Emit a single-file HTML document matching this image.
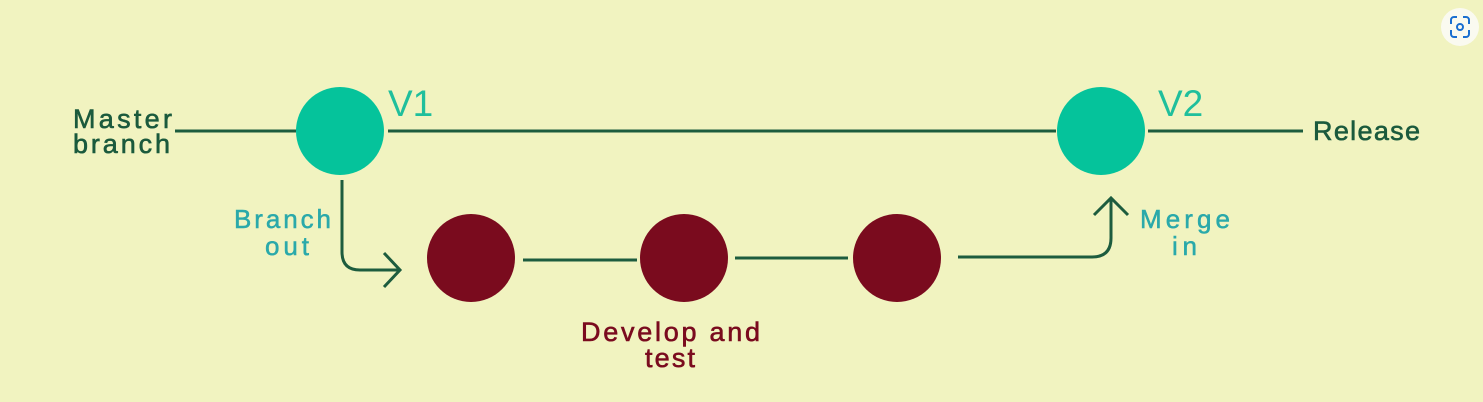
<!DOCTYPE html>
<html><head><meta charset="utf-8"><style>
html,body{margin:0;padding:0;background:#f1f3c0;}
svg{display:block;font-family:"Liberation Sans",sans-serif;}
</style></head><body>
<svg width="1483" height="402" viewBox="0 0 1483 402">
<rect width="1483" height="402" fill="#f1f3c0"/>
<g stroke="#1d5c3e" stroke-width="3" fill="none">
<line x1="175" y1="131" x2="296" y2="131"/>
<line x1="388" y1="131" x2="1056" y2="131"/>
<line x1="1148" y1="131" x2="1303" y2="131"/>
<line x1="523" y1="260" x2="637" y2="260"/>
<line x1="735" y1="258" x2="848" y2="258"/>
<path d="M342 180 V252 Q342 270 360 270 H399"/>
<path d="M384 253 L400 270 L384 287"/>
<path d="M958 257 H1092 Q1111 257 1111 238 V199"/>
<path d="M1094 215 L1111 198 L1128 215"/>
</g>
<circle cx="340" cy="131" r="44" fill="#05c39b"/>
<circle cx="1101" cy="131" r="44" fill="#05c39b"/>
<circle cx="471" cy="258" r="44" fill="#7a0b1e"/>
<circle cx="684" cy="258" r="44" fill="#7a0b1e"/>
<circle cx="897" cy="258" r="44" fill="#7a0b1e"/>
<g fill="#1b5a3d" font-size="27" stroke="#1b5a3d" stroke-width="0.6">
<text x="73" y="128" textLength="99" lengthAdjust="spacing">Master</text>
<text x="73" y="153" textLength="97" lengthAdjust="spacing">branch</text>
<text x="1313" y="140" textLength="107" lengthAdjust="spacing">Release</text>
</g>
<g fill="#1fbf9c" font-size="37">
<text x="388" y="116">V1</text>
<text x="1158" y="116">V2</text>
</g>
<g fill="#2aa9aa" font-size="26" stroke="#2aa9aa" stroke-width="0.5">
<text x="234" y="228" textLength="97" lengthAdjust="spacing">Branch</text>
<text x="265" y="255" textLength="44" lengthAdjust="spacing">out</text>
<text x="1140" y="228" textLength="90" lengthAdjust="spacing">Merge</text>
<text x="1172" y="255" textLength="25" lengthAdjust="spacing">in</text>
</g>
<g fill="#7a0b1e" font-size="27" stroke="#7a0b1e" stroke-width="0.6">
<text x="581" y="341" textLength="179" lengthAdjust="spacing">Develop and</text>
<text x="645" y="367" textLength="50" lengthAdjust="spacing">test</text>
</g>
<g>
<circle cx="1460" cy="27" r="19" fill="#fafaf0"/>
<path d="M1451 24v-4a3 3 0 0 1 3-3h3M1463 17h3a3 3 0 0 1 3 3v4M1469 30v4a3 3 0 0 1-3 3h-3M1457 37h-3a3 3 0 0 1-3-3v-4" stroke="#1a6fd0" stroke-width="2" fill="none"/>
<circle cx="1460" cy="27" r="3" stroke="#1a6fd0" stroke-width="2" fill="none"/>
</g>
</svg>
</body></html>
